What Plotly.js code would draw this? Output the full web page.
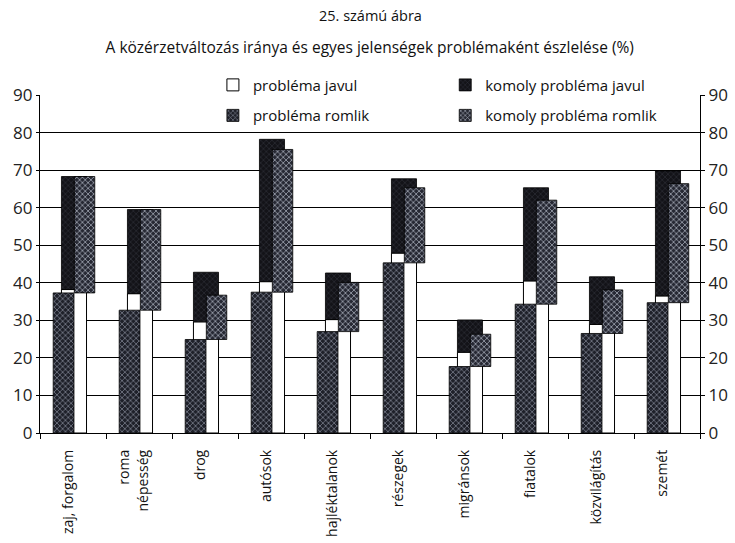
<!DOCTYPE html>
<html><head><meta charset="utf-8">
<script src="https://cdn.plot.ly/plotly-3.0.1.min.js"></script>
<style>html,body{margin:0;padding:0;background:#fff}</style>
</head><body><div id="chart" style="width:735px;height:543px"></div>
<script>
const categories = ['zaj, forgalom','roma<br>népesség','drog','autósok','hajléktalanok','részegek','migránsok','fiatalok','közvilágítás','szemét'];
const problemaJavul = [38.2,37.1,29.6,40.3,30.2,47.9,21.5,40.5,28.9,36.5];
const komolyProblemaJavul = [30.1,22.4,13.2,37.9,12.4,19.8,8.6,24.8,12.7,33.3];
const problemaRomlik = [37.3,32.7,24.9,37.5,27.0,45.3,17.7,34.3,26.5,34.7];
const komolyProblemaRomlik = [31.0,26.8,11.8,38.0,13.1,20.0,8.6,27.7,11.6,31.7];
const yTicks = [0,10,20,30,40,50,60,70,80,90];
const seriesNames = ['probléma javul','komoly probléma javul','probléma romlik','komoly probléma romlik'];
const titleMain = 'A közérzetváltozás iránya és egyes jelenségek problémaként észlelése (%)';
const titleSub = '25. számú ábra';

const FONT = 'Open Sans, Lato, sans-serif';

const traces = [
  {type:'bar', name:seriesNames[0], x:categories, y:problemaJavul, base:0,
   offset:-0.175, width:0.38, legend:'legend', legendgroup:'a',
   marker:{color:'#ffffff', line:{color:'#000', width:1}}},
  {type:'bar', name:seriesNames[1], x:categories, y:komolyProblemaJavul, base:problemaJavul,
   offset:-0.175, width:0.38, legend:'legend2', legendgroup:'c',
   marker:{color:'#131318', line:{color:'#000', width:0.8},
     pattern:{shape:'x', fgcolor:'#3a3c48', bgcolor:'#131318', size:4, solidity:0.2}}},
  {type:'bar', name:seriesNames[2], x:categories, y:problemaRomlik, base:0,
   offset:-0.30, width:0.315, legend:'legend', legendgroup:'b',
   marker:{color:'#24262f', line:{color:'#000', width:0.8},
     pattern:{shape:'x', fgcolor:'#8c91a0', bgcolor:'#1e2029', size:4, solidity:0.3}}},
  {type:'bar', name:seriesNames[3], x:categories, y:komolyProblemaRomlik, base:problemaRomlik,
   offset:0.02, width:0.31, legend:'legend2', legendgroup:'d',
   marker:{color:'#2c2f3a', line:{color:'#000', width:0.8},
     pattern:{shape:'x', fgcolor:'#a4a9b6', bgcolor:'#262833', size:4, solidity:0.35}}},
  // invisible helper so the right-hand axis is drawn
  {type:'scatter', mode:'none', x:categories, y:problemaJavul, yaxis:'y2',
   showlegend:false, hoverinfo:'skip'}
];

const layout = {
  width:735, height:543,
  margin:{l:40, r:35, t:95, b:110},
  paper_bgcolor:'#fff', plot_bgcolor:'#fff',
  font:{family:FONT, color:'#111'},
  barmode:'overlay',
  bargap:0,
  title:{text:titleMain, font:{size:15.5, color:'#111', family:FONT}, x:0.503, xanchor:'center', y:0.913, yanchor:'middle'},
  annotations:[{text:titleSub, xref:'paper', yref:'paper', x:0.5, y:1.234, xanchor:'center', yanchor:'middle',
    showarrow:false, font:{size:14.5, color:'#111', family:FONT}}],
  xaxis:{type:'category', showline:true, linecolor:'#000', linewidth:1.2,
    ticks:'outside', tickson:'boundaries', ticklen:5, tickcolor:'#000',
    tickangle:-90, tickfont:{size:14, color:'#111'}, showgrid:false, fixedrange:true,
    ticklabelstandoff:10, ticklabelshift:-5},
  yaxis:{range:[0,90], tickvals:yTicks, showline:true, linecolor:'#000', linewidth:1.2,
    ticks:'outside', ticklen:3, tickcolor:'#000', tickfont:{size:17, color:'#222'},
    showgrid:true, gridcolor:'#000', gridwidth:1, zeroline:false},
  yaxis2:{range:[0,90], tickvals:yTicks, overlaying:'y', side:'right', anchor:'x',
    showline:true, linecolor:'#000', linewidth:1.2, ticks:'outside', ticklen:4, tickcolor:'#000',
    tickfont:{size:17, color:'#222'}, showgrid:false, zeroline:false},
  legend:{x:0.262, xanchor:'left', y:1.078, yanchor:'top', bgcolor:'rgba(0,0,0,0)',
    font:{size:15, color:'#111'}, tracegroupgap:8, traceorder:'grouped'},
  legend2:{x:0.614, xanchor:'left', y:1.078, yanchor:'top', bgcolor:'rgba(0,0,0,0)',
    font:{size:15, color:'#111'}, tracegroupgap:8, traceorder:'grouped'},
  shapes:[{type:'rect', xref:'paper', yref:'paper', x0:0.285, x1:0.985, y0:0.895, y1:1.074,
    fillcolor:'#fff', line:{width:0}, layer:'between'}],
  showlegend:true
};

Plotly.newPlot('chart', traces, layout, {displayModeBar:false, staticPlot:true});
</script></body></html>
